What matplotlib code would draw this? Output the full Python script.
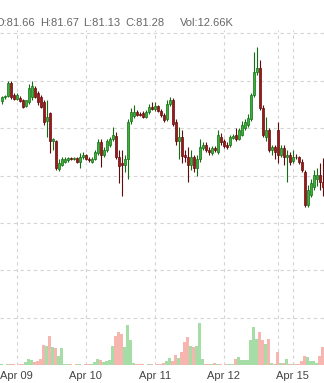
import numpy as np
import matplotlib
matplotlib.use('Agg')
import matplotlib.pyplot as plt

# hourly candles
opens = [81.78, 81.83, 81.84, 81.97, 81.85, 81.81, 81.82, 81.79, 81.73, 81.77,
         81.83, 81.92, 81.87, 81.83, 81.77, 81.57, 81.66, 81.36, 81.36, 81.07,
         81.11, 81.14, 81.16, 81.18, 81.17, 81.18, 81.14, 81.19, 81.22, 81.17,
         81.14, 81.17, 81.24, 81.35, 81.22, 81.27, 81.32, 81.38, 81.42, 81.20,
         81.13, 81.11, 81.17, 81.57, 81.63, 81.67, 81.65, 81.66, 81.62, 81.67,
         81.72, 81.70, 81.73, 81.68, 81.64, 81.59, 81.75, 81.80, 81.56, 81.36,
         81.41, 81.22, 81.20, 81.11, 81.20, 81.08, 81.17, 81.29, 81.32, 81.27,
         81.24, 81.29, 81.25, 81.41, 81.36, 81.32, 81.32, 81.40, 81.43, 81.38,
         81.43, 81.50, 81.53, 81.59, 81.85, 82.09, 82.13, 81.71, 81.41, 81.48,
         81.27, 81.30, 81.48, 81.22, 81.29, 81.19, 81.22, 81.15, 81.20, 81.19,
         81.14, 81.04, 80.69, 80.80, 80.88, 80.96, 81.01, 80.93]
highs = [81.84, 81.85, 81.99, 81.99, 81.87, 81.87, 81.84, 81.81, 81.80, 81.96,
         82.00, 81.94, 81.89, 81.85, 81.79, 81.80, 81.67, 81.40, 81.37, 81.17,
         81.19, 81.19, 81.20, 81.19, 81.20, 81.20, 81.24, 81.25, 81.23, 81.19,
         81.19, 81.27, 81.38, 81.38, 81.30, 81.38, 81.41, 81.51, 81.46, 81.27,
         81.27, 81.22, 81.59, 81.71, 81.74, 81.69, 81.67, 81.68, 81.69, 81.75,
         81.77, 81.77, 81.74, 81.70, 81.66, 81.79, 81.83, 81.82, 81.59, 81.51,
         81.48, 81.27, 81.30, 81.27, 81.22, 81.22, 81.38, 81.35, 81.35, 81.30,
         81.31, 81.31, 81.48, 81.45, 81.38, 81.35, 81.43, 81.44, 81.50, 81.50,
         81.57, 81.59, 81.65, 81.87, 82.30, 82.35, 82.22, 81.74, 81.62, 81.50,
         81.32, 81.32, 81.56, 81.32, 81.32, 81.27, 81.25, 81.27, 81.23, 81.21,
         81.17, 81.06, 80.90, 80.96, 81.06, 81.08, 81.13, 81.18]
lows = [81.75, 81.81, 81.83, 81.81, 81.79, 81.80, 81.77, 81.71, 81.72, 81.75,
        81.80, 81.82, 81.74, 81.71, 81.53, 81.41, 81.24, 81.27, 81.06, 81.05,
        81.10, 81.13, 81.14, 81.16, 81.16, 81.13, 81.08, 81.17, 81.16, 81.14,
        81.13, 81.16, 81.22, 81.09, 81.20, 81.25, 81.30, 81.36, 81.17, 80.92,
        80.78, 81.04, 80.96, 81.54, 81.61, 81.63, 81.63, 81.61, 81.61, 81.65,
        81.69, 81.68, 81.67, 81.62, 81.56, 81.57, 81.73, 81.52, 81.32, 81.17,
        81.13, 81.14, 80.93, 81.06, 81.04, 80.99, 81.14, 81.27, 81.25, 81.22,
        81.22, 81.25, 81.23, 81.32, 81.29, 81.28, 81.30, 81.38, 81.36, 81.37,
        81.42, 81.48, 81.51, 81.57, 81.83, 82.06, 81.69, 81.41, 81.36, 81.25,
        81.22, 81.17, 81.13, 81.19, 81.11, 80.93, 81.11, 81.13, 81.17, 81.12,
        81.04, 80.67, 80.67, 80.77, 80.85, 80.89, 80.85, 80.78]
closes = [81.83, 81.84, 81.97, 81.83, 81.81, 81.85, 81.78, 81.72, 81.79, 81.92,
          81.94, 81.83, 81.77, 81.72, 81.56, 81.62, 81.36, 81.38, 81.08, 81.13,
          81.17, 81.17, 81.18, 81.17, 81.18, 81.14, 81.20, 81.22, 81.17, 81.16,
          81.17, 81.25, 81.35, 81.22, 81.27, 81.36, 81.38, 81.43, 81.19, 81.10,
          81.11, 81.17, 81.56, 81.67, 81.67, 81.64, 81.64, 81.62, 81.67, 81.72,
          81.70, 81.73, 81.68, 81.64, 81.58, 81.75, 81.80, 81.54, 81.36, 81.41,
          81.21, 81.19, 81.11, 81.20, 81.08, 81.17, 81.30, 81.32, 81.27, 81.25,
          81.29, 81.27, 81.43, 81.35, 81.31, 81.30, 81.41, 81.42, 81.38, 81.48,
          81.53, 81.56, 81.61, 81.85, 82.09, 82.13, 81.71, 81.43, 81.48, 81.27,
          81.30, 81.25, 81.22, 81.29, 81.19, 81.22, 81.14, 81.20, 81.19, 81.14,
          81.06, 80.69, 80.85, 80.92, 81.01, 81.01, 80.93, 80.88]
# volume in thousands
volumes = [0.2, 0.15, 0.2, 0.25, 0.2, 0.15, 0.2, 0.25,
           0.9, 1.8, 1.5, 0.9, 1.2, 1.8, 6.0, 5.7, 8.7, 5.4, 5.1, 2.7, 5.1, 0.3,
           0.2, 0.2, 0.15, 0.2, 0.2, 0.15, 0.25, 0.3, 0.2,
           0.9, 1.8, 1.5, 0.9, 1.2, 1.5, 5.7, 8.7, 9.9, 9.3, 5.4, 12.0, 7.5, 0.6,
           0.25, 0.2, 0.2, 0.15, 0.2, 0.2, 0.15, 0.2, 0.3,
           0.6, 1.2, 2.1, 1.2, 3.0, 2.1, 3.9, 6.9, 8.4, 5.7, 5.4, 5.7, 12.66, 1.8, 0.3,
           0.2, 0.2, 0.6, 0.3,
           0.2, 0.15, 0.2, 0.25, 0.3,
           1.8, 2.4, 1.5, 1.5, 1.5, 7.5, 11.4, 7.8, 9.9, 7.5, 6.3, 7.8, 0.6, 0.3,
           3.9, 0.6, 0.6, 1.8,
           0.3, 0.3, 0.3, 0.3,
           1.2, 2.7, 2.4, 1.2, 1.2, 0.6, 2.7, 5.4]

day_starts = [5, 28, 51, 74, 92, 97]
day_labels = ['Apr 09', 'Apr 10', 'Apr 11', 'Apr 12', '', 'Apr 15']
price_grid = [79.5, 80.0, 80.5, 81.0, 81.5, 82.0, 82.5]

header = ['O:81.66', 'H:81.67', 'L:81.13', 'C:81.28', 'Vol:12.66K']

plt.rcParams['font.family'] = ['Liberation Sans', 'DejaVu Sans']

W, H = 324, 383
fig = plt.figure(figsize=(W / 100, H / 100), dpi=100)
ax = fig.add_axes([0, 18 / H, 1, 335 / H])
vax = ax.twinx()

o = np.array(opens)
h = np.array(highs)
l = np.array(lows)
c = np.array(closes)
x = np.arange(len(o))
up = c >= o

face = np.where(up, '#36b336', '#a31616')
edge = np.where(up, '#136d13', '#5e0c0c')
vcol = np.where(up, '#a6dca6', '#f7b5b0')

vax.bar(x, volumes, width=0.85, color=vcol, linewidth=0)
vax.set_ylim(0, 100.5)
vax.axis('off')

ax.vlines(x, l, h, colors=edge, linewidth=0.8, zorder=3)
body_lo = np.minimum(o, c)
body_h = np.maximum(np.abs(c - o), 0.006)
ax.bar(x, body_h, bottom=body_lo, width=0.72, color=face,
       edgecolor=edge, linewidth=0.5, zorder=4)

ax.set_xlim(-0.567, 107.43)
ax.set_ylim(79.005, 82.532)
ax.set_yticks(price_grid)
ax.set_xticks(day_starts)
ax.set_xticklabels(day_labels)
ax.tick_params(axis='both', length=0, labelsize=8, labelcolor='#444444')
ax.tick_params(axis='x', pad=4)
ax.tick_params(axis='y', labelleft=False)
ax.grid(True, color='#d4d4d4', linestyle=(0, (3, 3)), linewidth=0.8)
ax.set_axisbelow(True)
for s in ax.spines.values():
    s.set_visible(False)

# OHLC read-out line above the plot (the first letter is cut by the crop)
hx = [-4, 40, 83, 125, 180]
for txt, px in zip(header, hx):
    fig.text(px / W, 1 - 25.5 / H, txt, fontsize=8, color='#666666',
             va='baseline', ha='left')

fig.savefig('out.png', dpi=100)
